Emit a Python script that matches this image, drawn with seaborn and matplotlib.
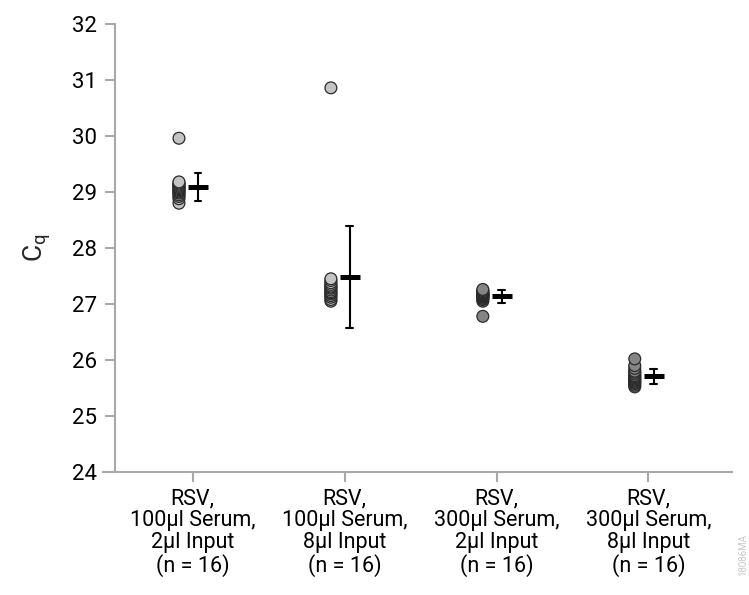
import numpy as np
import pandas as pd
import matplotlib
matplotlib.use("Agg")
import matplotlib.pyplot as plt
import seaborn as sns

categories = [
    "RSV,\n100µl Serum,\n2µl Input\n(n = 16)",
    "RSV,\n100µl Serum,\n8µl Input\n(n = 16)",
    "RSV,\n300µl Serum,\n2µl Input\n(n = 16)",
    "RSV,\n300µl Serum,\n8µl Input\n(n = 16)",
]
g1 = [29.96, 28.80, 28.88, 28.92, 28.95, 28.98, 29.00, 29.02, 29.04, 29.06,
      29.08, 29.10, 29.12, 29.14, 29.16, 29.18]
g2 = [30.86, 27.05, 27.08, 27.12, 27.15, 27.18, 27.20, 27.22, 27.25, 27.28,
      27.30, 27.32, 27.35, 27.38, 27.42, 27.45]
g3 = [26.78, 27.05, 27.08, 27.10, 27.12, 27.13, 27.14, 27.15, 27.16, 27.17,
      27.18, 27.19, 27.20, 27.22, 27.24, 27.26]
g4 = [25.52, 25.55, 25.58, 25.60, 25.62, 25.64, 25.66, 25.68, 25.70, 25.72,
      25.75, 25.78, 25.80, 25.85, 25.90, 26.02]
fill_colors = ["#c4c4c4", "#c4c4c4", "#858585", "#858585"]
y_ticks = [24, 25, 26, 27, 28, 29, 30, 31, 32]

df = pd.DataFrame({
    "group": np.repeat(categories, 16),
    "cq": g1 + g2 + g3 + g4,
})

sns.set_style("white")
plt.rcParams["font.family"] = ["Roboto", "DejaVu Sans"]
plt.rcParams["mathtext.fontset"] = "custom"
plt.rcParams["mathtext.rm"] = "Roboto"

fig = plt.figure(figsize=(7.49, 5.95), dpi=100)
ax = fig.add_axes([103 / 749, 1 - 472 / 595, (732 - 103) / 749, (472 - 24) / 595])

# individual points
n_before = len(ax.collections)
sns.stripplot(data=df, x="group", y="cq", hue="group", palette=fill_colors,
              jitter=False, size=8.5, linewidth=0.9, edgecolor="#2a2a2a",
              legend=False, order=categories, hue_order=categories, ax=ax)
for coll in ax.collections[n_before:]:
    off = coll.get_offsets()
    if len(off):
        off = np.asarray(off).copy()
        off[:, 0] -= 0.09
        coll.set_offsets(off)

# mean +/- SD
n_lines = len(ax.lines)
sns.pointplot(data=df, x="group", y="cq", order=categories, errorbar="sd",
              color="black", markers="_", markersize=15, markeredgewidth=3.6,
              linestyles="none", capsize=0.045, err_kws={"linewidth": 1.5},
              ax=ax)
for ln in ax.lines[n_lines:]:
    ln.set_xdata(np.asarray(ln.get_xdata(), dtype=float) + 0.035)

ax.set_xlim(-0.59, 3.55)
ax.set_ylim(24, 32)
ax.set_yticks(y_ticks)
ax.set_xticks(range(len(categories)))
ax.set_xticklabels(categories, fontsize=15.5, linespacing=1.05)
ax.tick_params(axis="y", labelsize=16)
ax.set_xlabel("")
ax.set_ylabel(r"C$_{\mathregular{q}}$", fontsize=19, labelpad=14)

for side in ["top", "right"]:
    ax.spines[side].set_visible(False)
spine_col = "#a8a8a8"
ax.spines["left"].set_position(("data", -0.51))
ax.spines["left"].set_color(spine_col)
ax.spines["bottom"].set_color(spine_col)
ax.spines["left"].set_linewidth(1.5)
ax.spines["bottom"].set_linewidth(1.5)
ax.tick_params(axis="both", which="major", direction="out", length=7,
               width=1.5, color=spine_col, labelcolor="black")
ax.tick_params(axis="y", pad=6)
ax.tick_params(axis="x", pad=5, bottom=True)
ax.tick_params(axis="y", left=True)

fig.text(0.992, 0.068, "18086MA", rotation=90, fontsize=7, color="#c8c8c8",
         ha="center", va="center")

fig.savefig("out.png", dpi=100)
